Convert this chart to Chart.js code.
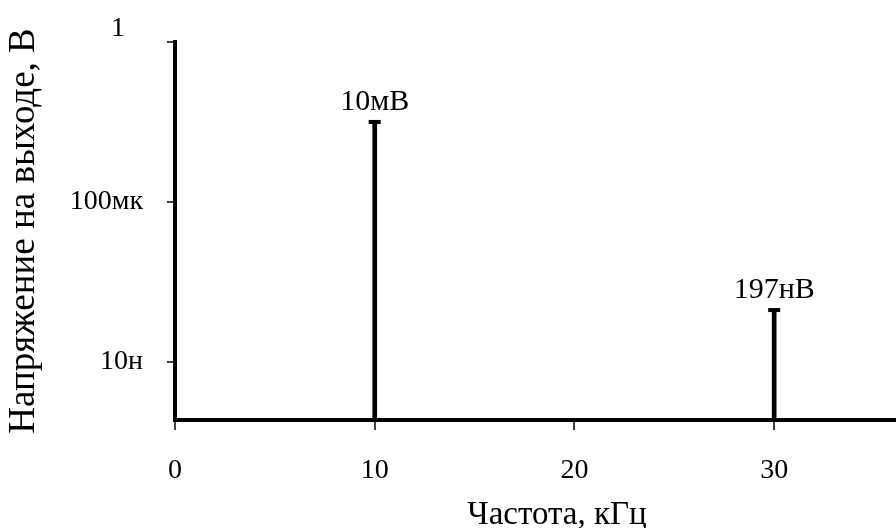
<!DOCTYPE html>
<html>
<head>
<meta charset="utf-8">
<script src="https://cdn.jsdelivr.net/npm/chart.js@4/dist/chart.umd.min.js"></script>
<style>
  html, body { margin: 0; padding: 0; background: #fff; }
</style>
</head>
<body>
<canvas id="spectrum-chart" width="896" height="528"></canvas>
<script>
// Данные спектра
const freqs = [10, 30]; // кГц
const volts = [0.01, 197e-9]; // В
const peakLabels = ["10мВ", "197нВ"];

const xTicks = [0, 10, 20, 30];
const yTicks = [1, 1e-4, 1e-8];
const yTickLabels = ["1", "100мк", "10н"];
const xTitle = "Частота, кГц";

const serif = "'Liberation Serif', 'Times New Roman', serif";

const points = freqs.map((f, i) => ({ x: f, y: volts[i] }));

// подписи над пиками, "1" над осью и подпись оси X
const labelsPlugin = {
  id: "peakLabels",
  afterDatasetsDraw(chart) {
    const { ctx, chartArea } = chart;
    const meta = chart.getDatasetMeta(0);
    ctx.save();
    ctx.fillStyle = "#000";
    ctx.font = "30px " + serif;
    ctx.textAlign = "center";
    ctx.textBaseline = "alphabetic";
    meta.data.forEach((bar, i) => {
      ctx.fillText(peakLabels[i], bar.x, bar.y - 12);
    });
    const y = chart.scales.y;
    ctx.font = "28px " + serif;
    ctx.fillText(yTickLabels[0], chartArea.left - 57, y.getPixelForValue(yTicks[0]) - 6);
    ctx.font = "33px " + serif;
    ctx.fillText(xTitle, chartArea.left + 382, chartArea.bottom + 104);
    ctx.restore();
  },
};

new Chart(document.getElementById("spectrum-chart").getContext("2d"), {
  type: "bar",
  data: {
    datasets: [
      {
        type: "bar",
        data: points,
        backgroundColor: "#000",
        borderWidth: 0,
        barThickness: 4,
      },
      {
        type: "line",
        data: points,
        showLine: false,
        pointStyle: "line",
        pointRadius: 6,
        pointBorderWidth: 4,
        pointBorderColor: "#000",
        pointBackgroundColor: "#000",
      },
    ],
  },
  options: {
    responsive: false,
    animation: false,
    layout: { autoPadding: false, padding: { top: 42, left: 0, right: 0, bottom: 0 } },
    plugins: {
      legend: { display: false },
      tooltip: { enabled: false },
    },
    scales: {
      x: {
        type: "linear",
        min: 0,
        max: 36.1,
        offset: false,
        afterBuildTicks: (scale) => {
          scale.ticks = xTicks.map((v) => ({ value: v }));
        },
        afterFit: (scale) => {
          scale.height = 108;
          scale.paddingRight = 0;
        },
        border: { display: true, color: "#000", width: 4 },
        grid: {
          display: true,
          offset: false,
          drawOnChartArea: false,
          drawTicks: true,
          tickLength: 10,
          color: "#444",
          lineWidth: 2,
        },
        ticks: {
          color: "#000",
          padding: 24,
          maxRotation: 0,
          font: { family: serif, size: 28 },
        },
      },
      y: {
        type: "logarithmic",
        min: 3.5e-10,
        max: 1,
        afterBuildTicks: (scale) => {
          scale.ticks = yTicks.map((v) => ({ value: v }));
        },
        afterFit: (scale) => {
          scale.width = 175;
        },
        border: { display: true, color: "#000", width: 4 },
        grid: {
          display: true,
          drawOnChartArea: false,
          drawTicks: true,
          tickLength: 8,
          color: "#444",
          lineWidth: 2,
        },
        ticks: {
          color: "#000",
          padding: 24,
          font: { family: serif, size: 28 },
          callback: (v) => {
            const i = yTicks.indexOf(v);
            return i > 0 ? yTickLabels[i] : "";
          },
        },
        title: {
          display: true,
          text: "Напряжение на выходе, В",
          color: "#000",
          padding: { top: 4, bottom: 0 },
          font: { family: serif, size: 37, lineHeight: 1.1 },
        },
      },
    },
  },
  plugins: [labelsPlugin],
});
</script>
</body>
</html>
